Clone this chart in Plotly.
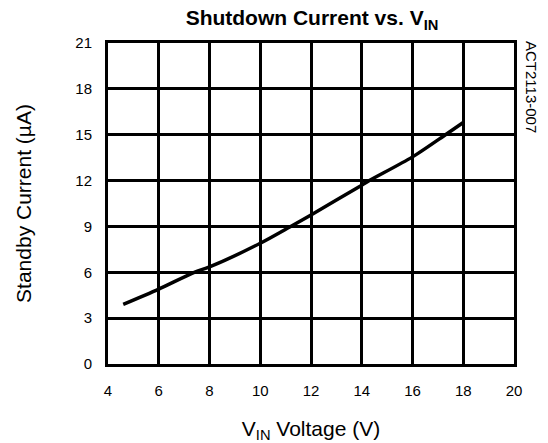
import plotly.graph_objects as go

vin = [4.6, 6.0, 7.4, 8.0, 10.0, 11.2, 12.0, 14.0, 14.3, 16.0, 17.3, 18.0]
current = [3.9, 4.9, 6.0, 6.35, 7.9, 9.0, 9.75, 11.7, 12.0, 13.55, 15.0, 15.8]
x_ticks = [4, 6, 8, 10, 12, 14, 16, 18, 20]
y_ticks = [0, 3, 6, 9, 12, 15, 18, 21]

font = "Liberation Sans, Arial, sans-serif"

fig = go.Figure(go.Scatter(
    x=vin, y=current, mode="lines",
    line=dict(color="black", width=3.5, shape="spline", smoothing=0.8),
    hoverinfo="skip",
))

axis_common = dict(
    showgrid=True, gridcolor="black", gridwidth=3,
    showline=True, linecolor="black", linewidth=3, mirror=True,
    zeroline=False, ticks="", automargin=False,
    tickfont=dict(family=font, size=15, color="black"),
)

fig.update_layout(
    width=548, height=443,
    margin=dict(l=108, r=34, t=43, b=79, autoexpand=False),
    paper_bgcolor="white", plot_bgcolor="white",
    showlegend=False,
    hovermode=False,
    title=dict(
        text="<b>Shutdown Current vs. V<sub>IN</sub></b>",
        x=312 / 548, xanchor="center",
        y=1 - 18 / 443, yanchor="middle",
        font=dict(family=font, size=21, color="black"),
    ),
    xaxis=dict(
        range=[4, 20], tickvals=x_ticks, ticklabelstandoff=11,
        title=dict(text="V<sub>IN</sub> Voltage (V)", standoff=24,
                   font=dict(family=font, size=21, color="black")),
        **axis_common,
    ),
    yaxis=dict(
        range=[0, 21], tickvals=y_ticks, ticklabelstandoff=10,
        title=dict(text="Standby Current (µA)", standoff=38,
                   font=dict(family=font, size=21, color="black")),
        **axis_common,
    ),
    annotations=[dict(
        text="ACT2113-007", textangle=90,
        xref="paper", yref="paper",
        x=1.0, xshift=18, xanchor="center",
        y=1.0, yshift=4, yanchor="top",
        showarrow=False,
        font=dict(family=font, size=15, color="black"),
    )],
)

fig.write_html(
    "out.html",
    config={"displayModeBar": False, "staticPlot": True},
    post_script="document.body.style.margin='0';document.body.style.overflow='hidden';",
)
